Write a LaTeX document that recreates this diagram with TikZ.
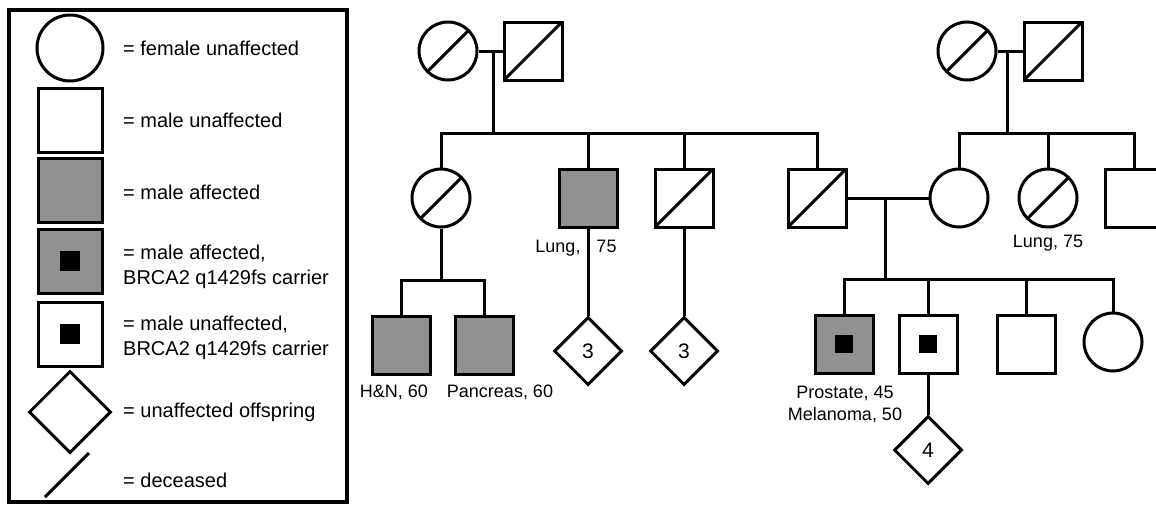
\documentclass[tikz,border=0pt]{standalone}
\usepackage{fontspec}
\setmainfont{Liberation Sans}
\usetikzlibrary{shapes.geometric}

\definecolor{affgray}{RGB}{145,145,145}

\tikzset{
    pedline/.style={line width=3pt},
    female/.style={circle, draw, pedline, fill=white, inner sep=0pt, minimum size=58pt},
    male/.style={rectangle, draw, pedline, fill=white, inner sep=0pt, minimum size=58pt},
    offspring/.style={diamond, draw, pedline, fill=white, inner sep=0pt, aspect=1, minimum size=68pt, font=\fontsize{21}{24}\selectfont},
    affected/.style={fill=affgray},
    deceased/.style={path picture={\draw[pedline] (path picture bounding box.south west) -- (path picture bounding box.north east);}},
    carrier/.style={path picture={\fill[black] (path picture bounding box.center) +(-#1,-#1) rectangle +(#1,#1);}},
    carrier/.default=9,
    legendtext/.style={anchor=west, align=left, inner sep=0pt, font=\fontsize{20}{25}\selectfont},
    pedlabel/.style={align=center, inner sep=0pt, font=\fontsize{18}{22}\selectfont}
}

\begin{document}
\begin{tikzpicture}[x=1pt, y=-1pt]

    \useasboundingbox (0,0) rectangle (1156,506);
    \clip (0,0) rectangle (1156,506);

    % key
    \draw[line width=3.5pt] (9,10) rectangle (347,502);
    \node[female, minimum size=66pt] (keyFemale) at (70,48) {};
    \node[legendtext] (keyFemaleText) at (123,48) {= female unaffected};
    \node[male, minimum size=64pt] (keyMale) at (70,120) {};
    \node[legendtext] (keyMaleText) at (123,120) {= male unaffected};
    \node[male, affected, minimum size=64pt] (keyAffected) at (70,190) {};
    \node[legendtext] (keyAffectedText) at (123,192) {= male affected};
    \node[male, affected, carrier=10, minimum size=64pt] (keyCarrierA) at (70,261) {};
    \node[legendtext] (keyCarrierAText) at (123,267) {= male affected,\\BRCA2 q1429fs carrier};
    \node[male, carrier=10, minimum size=64pt] (keyCarrierU) at (70,334) {};
    \node[legendtext] (keyCarrierUText) at (123,338) {= male unaffected,\\BRCA2 q1429fs carrier};
    \node[offspring, minimum size=82pt] (keyOffspring) at (70,412) {};
    \node[legendtext] (keyOffspringText) at (123,412) {= unaffected offspring};
    \coordinate (keyDeadA) at (45,497);
    \coordinate (keyDeadB) at (89,453);
    \draw[pedline] (keyDeadA) -- (keyDeadB);
    \node[legendtext] (keyDeadText) at (123,480) {= deceased};

    % grandparents
    \node[female, deceased] (gmaL) at (448,51) {};
    \node[male, deceased] (gpaL) at (533,51) {};
    \node[female, deceased] (gmaR) at (967,51) {};
    \node[male, deceased] (gpaR) at (1053,51) {};
    \draw[pedline] (gmaL) -- (gpaL);
    \draw[pedline] (gmaR) -- (gpaR);
    \coordinate (mateL) at (493,51);
    \coordinate (sibL) at (493,133);
    \coordinate (mateR) at (1007,51);
    \coordinate (sibR) at (1007,133);
    \draw[pedline] (mateL) -- (sibL);
    \draw[pedline] (mateR) -- (sibR);

    % parents, aunts and uncles
    \node[female, deceased] (auntL) at (441,198) {};
    \node[male, affected] (uncleLung) at (588,198) {};
    \node[male, deceased] (uncleL) at (684,198) {};
    \node[male, deceased] (father) at (817,198) {};
    \node[female] (mother) at (959,198) {};
    \node[female, deceased] (auntR) at (1048,198) {};
    \node[male] (uncleR) at (1134,198) {};

    \draw[pedline] (auntL.north) |- (sibL) -| (father.north);
    \foreach \kid in {uncleLung, uncleL} {
        \draw[pedline] (\kid.north |- sibL) -- (\kid.north);
    }
    \draw[pedline] (mother.north) |- (sibR) -| (uncleR.north);
    \draw[pedline] (auntR.north |- sibR) -- (auntR.north);

    \node[pedlabel] (lblLungA) at (576,248) {Lung,\hspace{16pt}75};
    \node[pedlabel] (lblLungB) at (1048,243) {Lung, 75};

    % father and mother
    \draw[pedline] (father) -- (mother);
    \coordinate (mateF) at (885,198);
    \coordinate (sibF) at (885,279);
    \draw[pedline] (mateF) -- (sibF);

    % cousins
    \coordinate (sibA) at (441,280);
    \draw[pedline] (auntL) -- (sibA);
    \node[male, affected] (cousinHN) at (401,345) {};
    \node[male, affected] (cousinPanc) at (484,345) {};
    \draw[pedline] (cousinHN.north) |- (sibA) -| (cousinPanc.north);
    \node[pedlabel] (lblHN) at (394,392) {H\&N, 60};
    \node[pedlabel] (lblPanc) at (500,392) {Pancreas, 60};

    \node[offspring] (offA) at (588,351) {3};
    \node[offspring] (offB) at (684,351) {3};
    \draw[pedline] (uncleLung) -- (offA);
    \draw[pedline] (uncleL) -- (offB);

    % proband and siblings
    \node[male, affected, carrier] (proband) at (844,344) {};
    \node[male, carrier] (brotherC) at (928,344) {};
    \node[male] (brother) at (1026,344) {};
    \node[female] (sister) at (1113,342) {};
    \draw[pedline] (proband.north) |- (sibF) -| (sister.north);
    \foreach \kid in {brotherC, brother} {
        \draw[pedline] (\kid.north |- sibF) -- (\kid.north);
    }
    \node[pedlabel] (lblProband) at (845,404) {Prostate, 45\\Melanoma, 50};

    \node[offspring] (offC) at (928,450) {4};
    \draw[pedline] (brotherC) -- (offC);

\end{tikzpicture}
\end{document}
